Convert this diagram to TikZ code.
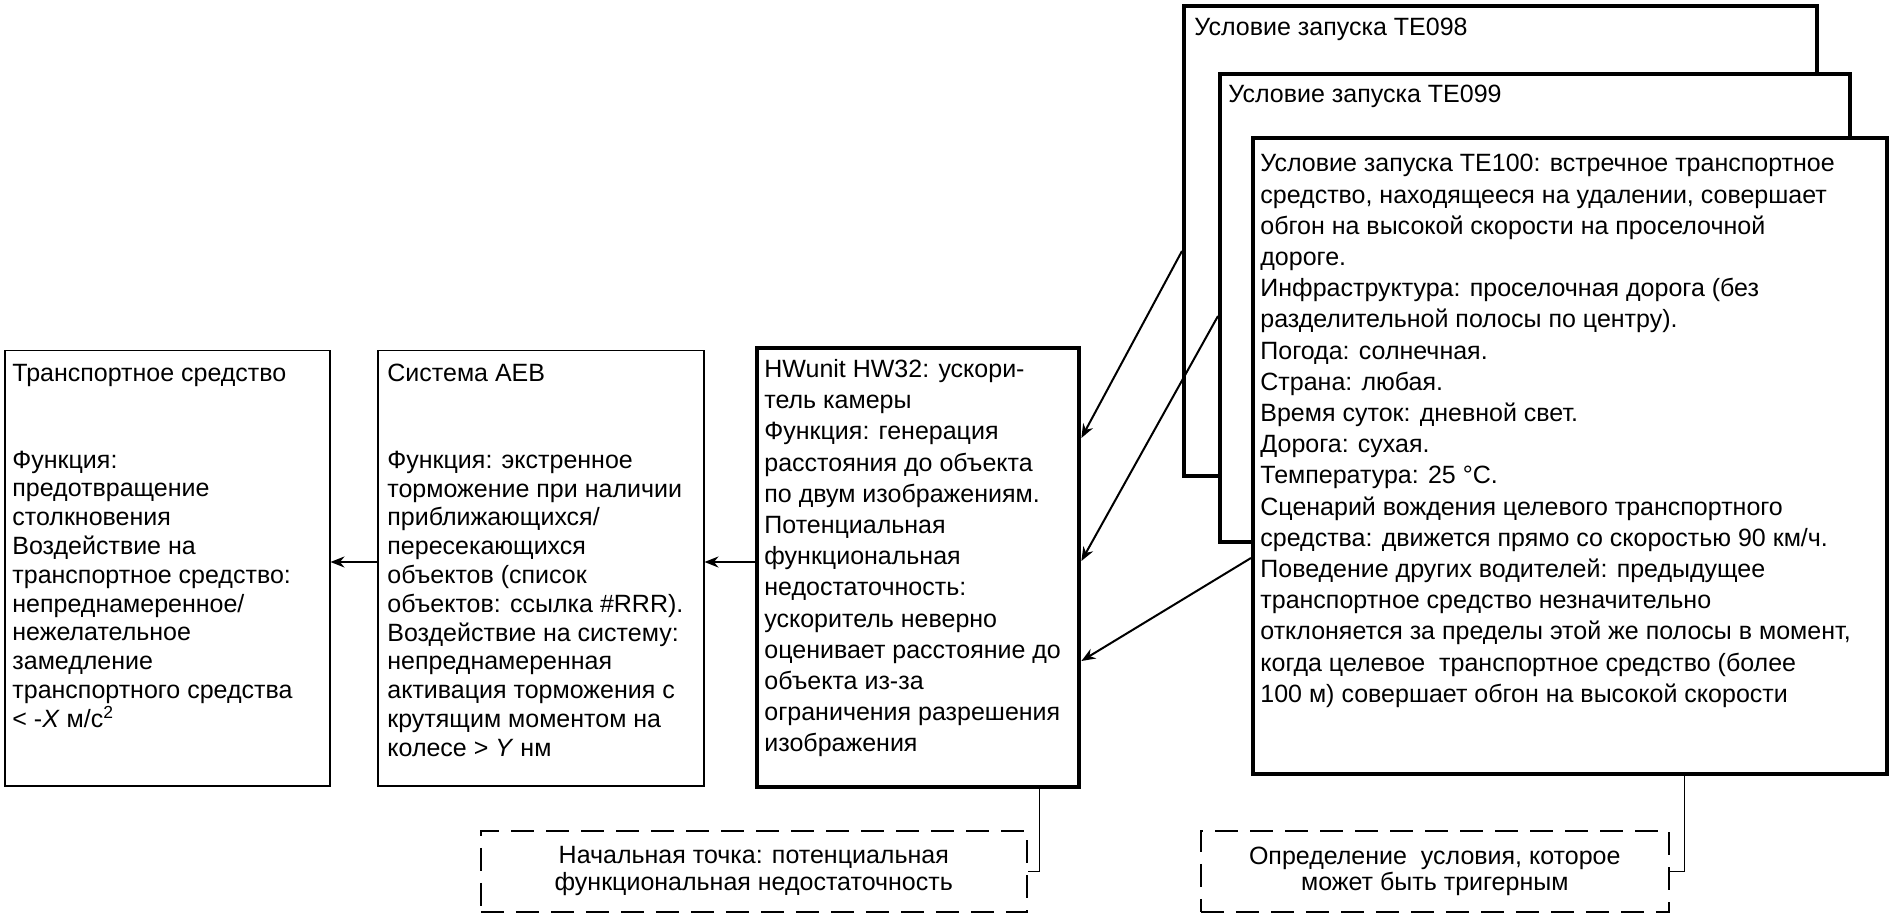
\documentclass[tikz,border=0pt]{standalone}
\usepackage{fontspec}
\setmainfont{Liberation Sans}
\usetikzlibrary{arrows.meta, calc}

\tikzset{
    frame/.style={draw, fill=white, line width=0.75pt, anchor=north west, inner sep=0pt},
    thickframe/.style={frame, line width=2.2pt},
    dashframe/.style={draw, line width=0.75pt, dash pattern=on 11.5pt off 6pt,
        anchor=north west, inner sep=0pt, align=center,
        font=\fontsize{12.5}{13.3}\selectfont},
    bodytext/.style={anchor=north west, inner sep=0pt, align=left,
        font=\fontsize{12.5}{14.4}\selectfont},
    widetext/.style={bodytext, font=\fontsize{12.5}{15.6}\selectfont},
    arr/.style={-{Stealth[length=7pt, width=5.5pt]}, line width=1pt},
    link/.style={line width=0.75pt},
}

\begin{document}
\begin{tikzpicture}[x=0.5pt, y=-0.5pt]
\useasboundingbox (0,0) rectangle (1891,914);

%% frames (pixel grid, y downwards)
\node[frame, minimum width=162.5pt, minimum height=217.5pt] (veh) at (4,350) {};
\node[frame, minimum width=163pt, minimum height=217.5pt] (aeb) at (377,350) {};
\node[thickframe, minimum width=161pt, minimum height=219.5pt] (hw) at (755,346) {};
\node[thickframe, minimum width=316.5pt, minimum height=235pt] (te98) at (1182,4) {};
\node[thickframe, minimum width=315pt, minimum height=234pt] (te99) at (1218,72) {};
\node[thickframe, minimum width=317pt, minimum height=318pt] (te100) at (1251,136) {};

%% texts
\node[bodytext] (vehtxt) at ($(veh.north west)+(8,14)$) {%
    Транспортное средство\\[28.8pt]
    Функция:\\
    предотвращение\\
    столкновения\\
    Воздействие на\\
    транспортное средство:\\
    непреднамеренное/\\
    нежелательное\\
    замедление\\
    транспортного средства\\
    < -\textit{X} м/с\textsuperscript{2}};

\node[bodytext] (aebtxt) at ($(aeb.north west)+(10,14)$) {%
    Система AEB\\[28.8pt]
    Функция: экстренное\\
    торможение при наличии\\
    приближающихся/\\
    пересекающихся\\
    объектов (список\\
    объектов: ссылка \#RRR).\\
    Воздействие на систему:\\
    непреднамеренная\\
    активация торможения с\\
    крутящим моментом на\\
    колесе > \textit{Y} нм};

\node[widetext] (hwtxt) at ($(hw.north west)+(9,13)$) {%
    HWunit HW32: ускори-\\
    тель камеры\\
    Функция: генерация\\
    расстояния до объекта\\
    по двум изображениям.\\
    Потенциальная\\
    функциональная\\
    недостаточность:\\
    ускоритель неверно\\
    оценивает расстояние до\\
    объекта из-за\\
    ограничения разрешения\\
    изображения};

\node[bodytext] (te98txt) at ($(te98.north west)+(12,14)$) {Условие запуска TE098};
\node[bodytext] (te99txt) at ($(te99.north west)+(10,13)$) {Условие запуска TE099};

\node[widetext] (te100txt) at ($(te100.north west)+(9,18)$) {%
    Условие запуска TE100: встречное транспортное\\
    средство, находящееся на удалении, совершает\\
    обгон на высокой скорости на проселочной\\
    дороге.\\
    Инфраструктура: проселочная дорога (без\\
    разделительной полосы по центру).\\
    Погода: солнечная.\\
    Страна: любая.\\
    Время суток: дневной свет.\\
    Дорога: сухая.\\
    Температура: 25 °C.\\
    Сценарий вождения целевого транспортного\\
    средства: движется прямо со скоростью 90 км/ч.\\
    Поведение других водителей: предыдущее\\
    транспортное средство незначительно\\
    отклоняется за пределы этой же полосы в момент,\\
    когда целевое~ транспортное средство (более\\
    100 м) совершает обгон на высокой скорости};

%% dashed notes
\node[dashframe, minimum width=273pt, minimum height=40.5pt] (startpt) at (480,830)
    {Начальная точка: потенциальная\\функциональная недостаточность};
\node[dashframe, minimum width=234pt, minimum height=40.5pt] (cond) at (1200,830)
    {Определение~ условия, которое\\может быть тригерным};

%% arrows
\draw[arr] ($(aeb.north west)+(0,212)$) -- ($(veh.north east)+(0,212)$);
\draw[arr] ($(hw.north west)+(0,216)$) -- ($(aeb.north east)+(0,212)$);
\draw[arr] ($(te98.north west)+(0,247)$) -- ($(hw.north east)+(0,92)$);
\draw[arr] ($(te99.north west)+(0,244)$) -- ($(hw.north east)+(0,215)$);
\draw[arr] ($(te100.north west)+(0,422)$) -- ($(hw.north east)+(0,315)$);

%% note links
\draw[link] ($(hw.south east)+(-42,0)$) |- (startpt.east);
\draw[link] ($(te100.south east)+(-205,0)$) |- (cond.east);

\end{tikzpicture}
\end{document}
